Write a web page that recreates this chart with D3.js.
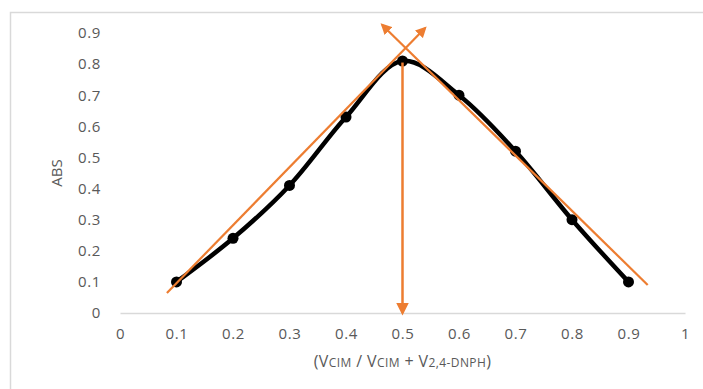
<!DOCTYPE html>
<html>
<head>
<meta charset="utf-8">
<script src="https://cdn.jsdelivr.net/npm/d3@7"></script>
<style>
  body { margin: 0; background: #fff; }
  text { font-family: "Open Sans", sans-serif; fill: #595959; }
</style>
</head>
<body>
<div class="chart"></div>
<script>
// data
const xValues = [0.1, 0.2, 0.3, 0.4, 0.5, 0.6, 0.7, 0.8, 0.9];
const absValues = [0.10, 0.24, 0.41, 0.63, 0.81, 0.70, 0.52, 0.30, 0.10];
const xTicks = [0, 0.1, 0.2, 0.3, 0.4, 0.5, 0.6, 0.7, 0.8, 0.9, 1];
const yTicks = [0, 0.1, 0.2, 0.3, 0.4, 0.5, 0.6, 0.7, 0.8, 0.9];
// orange hand drawn tangents (data units)
const leftTangent = [[0.083, 0.064], [0.540, 0.916]];
const rightTangent = [[0.934, 0.090], [0.464, 0.926]];
const dropLine = [[0.5, 0.805], [0.5, 0.0]];

const width = 703;
const height = 389;
const margin = { top: 33, right: 18, bottom: 76, left: 120 };
const chart_width = width - margin.left - margin.right;
const chart_height = height - margin.top - margin.bottom;
const orange = '#ED7D31';

const svg = d3.select('.chart').append('svg')
  .attr('width', width).attr('height', height);

// chart frame
svg.append('rect')
  .attr('x', 10.5).attr('y', 12.5)
  .attr('width', 720).attr('height', 400)
  .attr('fill', 'none').attr('stroke', '#d9d9d9').attr('stroke-width', 1.5);

const defs = svg.append('defs');
defs.append('marker')
  .attr('id', 'arrow')
  .attr('viewBox', '0 0 10 10')
  .attr('refX', 8).attr('refY', 5)
  .attr('markerWidth', 5).attr('markerHeight', 5)
  .attr('orient', 'auto')
  .append('path').attr('d', 'M0,0 L10,5 L0,10 z').attr('fill', orange);

const g = svg.append('g')
  .attr('transform', `translate(${margin.left},${margin.top})`);

const xScale = d3.scaleLinear().domain([0, 1]).range([0, chart_width]);
const yScale = d3.scaleLinear().domain([0, 0.9]).range([chart_height, 0]);

// x axis (only baseline + labels)
const xAxis = d3.axisBottom(xScale).tickValues(xTicks).tickSize(0).tickPadding(15)
  .tickFormat(d => String(d));
const xAxisDraw = g.append('g').attr('transform', `translate(0,${chart_height})`).call(xAxis);
xAxisDraw.select('.domain').attr('stroke', '#d9d9d9').attr('stroke-width', 1.5);
xAxisDraw.selectAll('text').style('font-size', '15px').style('letter-spacing', '0.6px').attr('fill', '#595959');

// y axis labels only
const yAxis = d3.axisLeft(yScale).tickValues(yTicks).tickSize(0).tickPadding(19)
  .tickFormat(d => String(d));
const yAxisDraw = g.append('g').call(yAxis);
yAxisDraw.select('.domain').remove();
yAxisDraw.selectAll('text').style('font-size', '15px').style('letter-spacing', '0.6px').attr('fill', '#595959');

// series
const line = d3.line()
  .x((d, i) => xScale(xValues[i]))
  .y(d => yScale(d))
  .curve(d3.curveCatmullRom.alpha(0.5));

g.append('path')
  .datum(absValues)
  .attr('fill', 'none')
  .attr('stroke', '#000')
  .attr('stroke-width', 4.5)
  .attr('d', line);

g.selectAll('.dot')
  .data(absValues)
  .enter()
  .append('circle')
  .attr('class', 'dot')
  .attr('cx', (d, i) => xScale(xValues[i]))
  .attr('cy', d => yScale(d))
  .attr('r', 5.5)
  .attr('fill', '#000');

// orange shapes
const seg = d3.line().x(d => xScale(d[0])).y(d => yScale(d[1]));
g.append('path').datum(leftTangent).attr('d', seg)
  .attr('stroke', orange).attr('stroke-width', 2.2).attr('fill', 'none')
  .attr('marker-end', 'url(#arrow)');
g.append('path').datum(rightTangent).attr('d', seg)
  .attr('stroke', orange).attr('stroke-width', 2.2).attr('fill', 'none')
  .attr('marker-end', 'url(#arrow)');
g.append('path').datum(dropLine).attr('d', seg)
  .attr('stroke', orange).attr('stroke-width', 2.5).attr('fill', 'none')
  .attr('marker-end', 'url(#arrow)');

// axis titles
svg.append('text')
  .attr('transform', `translate(62,${margin.top + yScale(0.45)}) rotate(-90)`)
  .attr('text-anchor', 'middle')
  .style('font-size', '15px')
  .text('ABS');

const xt = svg.append('text')
  .attr('x', margin.left + xScale(0.5))
  .attr('y', 367)
  .attr('text-anchor', 'middle')
  .style('font-size', '16px')
  .style('letter-spacing', '0.4px');
xt.append('tspan').text('(V');
xt.append('tspan').text('CIM').style('font-size', '12px');
xt.append('tspan').text(' / V');
xt.append('tspan').text('CIM').style('font-size', '12px');
xt.append('tspan').text(' + V');
xt.append('tspan').text('2,4-DNPH').style('font-size', '12px');
xt.append('tspan').text(')');
</script>
</body>
</html>
